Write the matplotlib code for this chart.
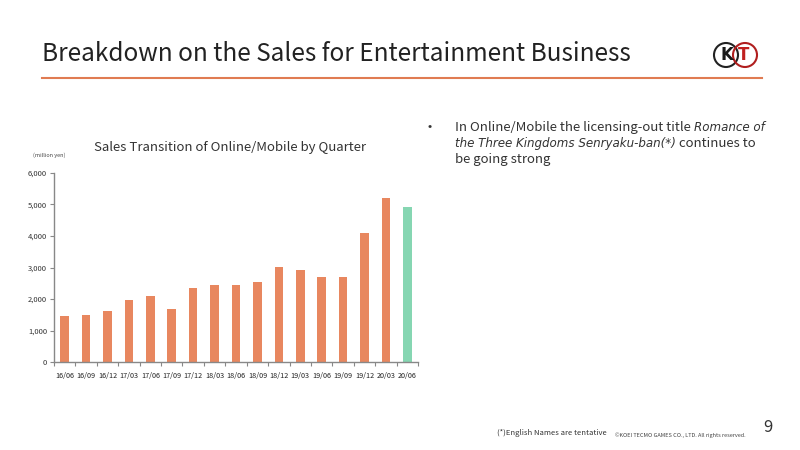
import matplotlib
matplotlib.use("Agg")
import matplotlib.pyplot as plt
from matplotlib.patches import Circle
from matplotlib.lines import Line2D

quarters = ["16/06", "16/09", "16/12", "17/03", "17/06", "17/09", "17/12", "18/03", "18/06",
            "18/09", "18/12", "19/03", "19/06", "19/09", "19/12", "20/03", "20/06"]
sales = [1450, 1480, 1630, 1970, 2090, 1690, 2340, 2440, 2440, 2540, 3030, 2930, 2700, 2700,
         4090, 5200, 4910]
yticks = [0, 1000, 2000, 3000, 4000, 5000, 6000]

ORANGE = "#E8875F"
GREEN = "#86D6B2"
colors = [ORANGE] * (len(sales) - 1) + [GREEN]

plt.rcParams['font.family'] = ['Noto Sans CJK JP', 'DejaVu Sans']

fig = plt.figure(figsize=(8, 4.5), dpi=100)
W, H = 800, 450

def fx(x):
    return x / W

def fy(y):
    return 1 - y / H

# Title
fig.text(fx(42), fy(54), "Breakdown on the Sales for Entertainment Business",
         fontsize=17.5, color="#222222", va="center", ha="left")
fig.add_artist(Line2D([fx(42), fx(762)], [fy(78), fy(78)], color="#E07B52", lw=1.5))

# Logo
lax = fig.add_axes([fx(704), fy(74), fx(58), 38 / H])
lax.set_xlim(0, 58)
lax.set_ylim(0, 38)
lax.set_aspect("equal")
lax.axis("off")
lax.add_patch(Circle((22, 19), 12, fill=False, ec="#222222", lw=1.5))
lax.add_patch(Circle((41, 19), 12, fill=False, ec="#B01E1E", lw=1.5))
lax.text(23, 18.5, "K", fontsize=12, fontweight="bold", color="#1a1a1a", ha="center", va="center",
         family="DejaVu Sans")
lax.text(40, 18.5, "T", fontsize=12, fontweight="bold", color="#C0201F", ha="center", va="center",
         family="DejaVu Sans")

# Chart
ax = fig.add_axes([fx(54), fy(362), fx(418 - 54), (362 - 173) / H])
x = list(range(len(quarters)))
ax.bar(x, sales, width=0.4, color=colors, zorder=2)
ax.set_xlim(-0.5, len(quarters) - 0.5)
ax.set_ylim(0, 6000)
ax.set_yticks(yticks)
ax.set_yticklabels([f"{v:,}" for v in yticks], fontsize=5.5, color="#333333")
ax.set_xticks(x)
ax.set_xticklabels(quarters, fontsize=5.2, color="#222222")
ax.tick_params(axis="x", length=0, pad=7)
ax.set_xticks([i + 0.5 for i in range(-1, len(quarters))], minor=True)
ax.tick_params(axis="x", which="minor", length=3, color="#888888", width=0.8)
ax.tick_params(axis="y", length=3, color="#888888", width=0.8, pad=2)
for s in ["top", "right"]:
    ax.spines[s].set_visible(False)
for s in ["left", "bottom"]:
    ax.spines[s].set_color("#888888")
    ax.spines[s].set_linewidth(1.0)

fig.text(fx(230), fy(148), "Sales Transition of Online/Mobile by Quarter",
         fontsize=9.5, color="#333333", ha="center", va="center")
fig.text(fx(33), fy(155), "(million yen)", fontsize=4, color="#444444", ha="left", va="center")

# Bullet text, pieces chained using measured widths
fig.text(fx(428), fy(127), "•", fontsize=9, color="#333333", ha="left", va="center")
renderer = fig.canvas.get_renderer()
REG = dict(fontsize=9.5, color="#333333", va="baseline", ha="left")
ITA = dict(fontsize=8.6, color="#333333", va="baseline", ha="left", family="DejaVu Sans",
           style="oblique")

def chain(x0, ybase, pieces):
    xp = x0
    for txt, kw in pieces:
        t = fig.text(fx(xp), fy(ybase), txt, **kw)
        bb = t.get_window_extent(renderer)
        xp += bb.width

chain(455, 131, [("In Online/Mobile the licensing-out title ", REG), ("Romance of", ITA)])
chain(455, 147, [("the Three Kingdoms Senryaku-ban(*)", ITA), (" continues to", REG)])
chain(455, 163, [("be going strong", REG)])

# Footer
fig.text(fx(497), fy(433), "(*)English Names are tentative", fontsize=5.5, color="#333333",
         ha="left", va="center")
fig.text(fx(615), fy(435), "©KOEI TECMO GAMES CO., LTD. All rights reserved.", fontsize=4,
         color="#444444", ha="left", va="center")
fig.text(fx(768), fy(428), "9", fontsize=12, color="#333333", ha="center", va="center")

fig.savefig("out.png", dpi=100)
